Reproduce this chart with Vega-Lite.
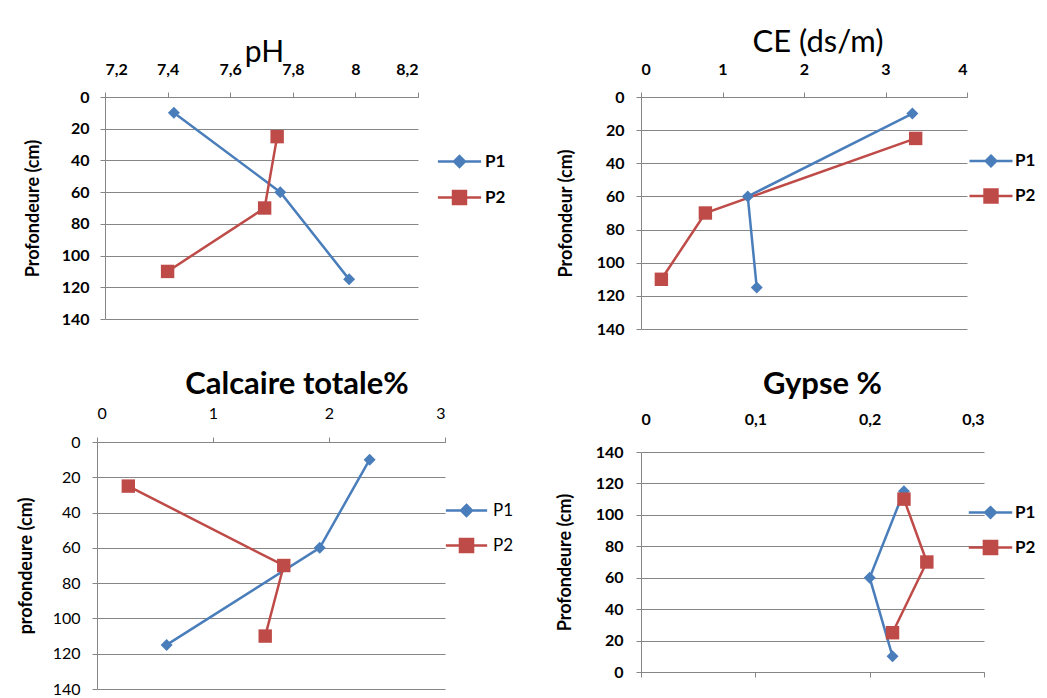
{
  "$schema": "https://vega.github.io/schema/vega-lite/v6.json",
  "background": "white",
  "padding": {"left": 17, "top": 27, "right": 0, "bottom": 0},
  "datasets": {
    "ph": [
      {"serie": "P1", "depth": 10, "value": 7.42},
      {"serie": "P1", "depth": 60, "value": 7.76},
      {"serie": "P1", "depth": 115, "value": 7.98},
      {"serie": "P2", "depth": 25, "value": 7.75},
      {"serie": "P2", "depth": 70, "value": 7.71},
      {"serie": "P2", "depth": 110, "value": 7.4}
    ],
    "ce": [
      {"serie": "P1", "depth": 10, "value": 3.33},
      {"serie": "P1", "depth": 60, "value": 1.31},
      {"serie": "P1", "depth": 115, "value": 1.42},
      {"serie": "P2", "depth": 25, "value": 3.37},
      {"serie": "P2", "depth": 70, "value": 0.79},
      {"serie": "P2", "depth": 110, "value": 0.25}
    ],
    "calc": [
      {"serie": "P1", "depth": 10, "value": 2.35},
      {"serie": "P1", "depth": 60, "value": 1.92},
      {"serie": "P1", "depth": 115, "value": 0.6},
      {"serie": "P2", "depth": 25, "value": 0.27},
      {"serie": "P2", "depth": 70, "value": 1.61},
      {"serie": "P2", "depth": 110, "value": 1.45}
    ],
    "gyp": [
      {"serie": "P1", "depth": 10, "value": 0.22},
      {"serie": "P1", "depth": 60, "value": 0.2},
      {"serie": "P1", "depth": 115, "value": 0.23},
      {"serie": "P2", "depth": 25, "value": 0.22},
      {"serie": "P2", "depth": 70, "value": 0.25},
      {"serie": "P2", "depth": 110, "value": 0.23}
    ]
  },
  "spacing": 42,
  "resolve": {"scale": {"color": "independent"}, "legend": {"color": "independent"}},
  "hconcat": [
    {
      "spacing": 42,
      "center": true,
      "resolve": {"scale": {"color": "independent"}, "legend": {"color": "independent"}},
      "vconcat": [
        {
          "width": 313, "height": 222,
          "data": {"name": "ph"},
          "title": {"text": "pH", "fontSize": 30, "fontWeight": "normal", "baseline": "alphabetic", "offset": -31, "dx": 3},
          "encoding": {
            "x": {"field": "value", "type": "quantitative", "scale": {"domain": [7.2, 8.2], "nice": false, "zero": false},
              "axis": {"orient": "top", "values": [7.2, 7.4, 7.6, 7.8, 8, 8.2], "labelExpr": "replace(format(datum.value, '.1~f'), '.', ',')", "title": null, "labelPadding": 15}},
            "y": {"field": "depth", "type": "quantitative", "scale": {"domain": [0, 140], "reverse": true, "nice": false, "zero": false},
              "axis": {"values": [0, 20, 40, 60, 80, 100, 120, 140], "title": "Profondeure (cm)", "labelPadding": 11, "titlePadding": 19}},
            "color": {"field": "serie", "type": "nominal", "scale": {"domain": ["P1", "P2"], "range": ["#4A7EBB", "#BE4B48"]},
              "legend": {"title": null, "orient": "none", "legendX": 335, "legendY": 45, "symbolSize": 1296, "rowPadding": 6, "labelOffset": 6, "labelFontSize": 17, "labelFontWeight": "bold",
                "encode": {"symbols": {"update": {
                  "shape": {"signal": "datum.value === 'P1' ? 'M-1.2,0H1.2M0,-0.3L0.3,0L0,0.3L-0.3,0Z' : 'M-1.2,0H1.2M-0.36,-0.36H0.36V0.36H-0.36Z'"},
                  "fill": {"signal": "datum.value === 'P1' ? '#4A7EBB' : '#BE4B48'"},
                  "stroke": {"signal": "datum.value === 'P1' ? '#4A7EBB' : '#BE4B48'"},
                  "opacity": {"value": 1}}}}}},
            "order": {"field": "depth", "type": "quantitative"}
          },
          "layer": [
            {"mark": {"type": "line", "strokeWidth": 2.5}},
            {"transform": [{"filter": "datum.serie === 'P1'"}], "mark": {"type": "point", "shape": "diamond", "size": 144, "filled": true, "opacity": 1}},
            {"transform": [{"filter": "datum.serie === 'P2'"}], "mark": {"type": "point", "shape": "square", "size": 180, "filled": true, "opacity": 1}}
          ]
        },
        {
          "width": 348, "height": 247,
          "data": {"name": "calc"},
          "title": {"text": "Calcaire totale%", "fontSize": 31, "fontWeight": "bold", "baseline": "alphabetic", "offset": -20, "dx": 26},
          "encoding": {
            "x": {"field": "value", "type": "quantitative", "scale": {"domain": [0, 3], "nice": false, "zero": false},
              "axis": {"orient": "top", "values": [0, 1, 2, 3], "title": null, "labelPadding": 16, "labelFontWeight": "normal", "labelFontSize": 16}},
            "y": {"field": "depth", "type": "quantitative", "scale": {"domain": [0, 140], "reverse": true, "nice": false, "zero": false},
              "axis": {"values": [0, 20, 40, 60, 80, 100, 120, 140], "title": "profondeure (cm)", "labelPadding": 12, "titlePadding": 17, "labelFontWeight": "normal", "labelFontSize": 16}},
            "color": {"field": "serie", "type": "nominal", "scale": {"domain": ["P1", "P2"], "range": ["#4A7EBB", "#BE4B48"]},
              "legend": {"title": null, "orient": "none", "legendX": 351, "legendY": 50, "symbolSize": 1183, "rowPadding": 5, "labelOffset": 8, "labelFontSize": 17, "labelFontWeight": "normal",
                "encode": {"symbols": {"update": {
                  "shape": {"signal": "datum.value === 'P1' ? 'M-1.2,0H1.2M0,-0.32L0.32,0L0,0.32L-0.32,0Z' : 'M-1.2,0H1.2M-0.38,-0.38H0.38V0.38H-0.38Z'"},
                  "fill": {"signal": "datum.value === 'P1' ? '#4A7EBB' : '#BE4B48'"},
                  "stroke": {"signal": "datum.value === 'P1' ? '#4A7EBB' : '#BE4B48'"},
                  "opacity": {"value": 1}}}}}},
            "order": {"field": "depth", "type": "quantitative"}
          },
          "layer": [
            {"mark": {"type": "line", "strokeWidth": 2.5}},
            {"transform": [{"filter": "datum.serie === 'P1'"}], "mark": {"type": "point", "shape": "diamond", "size": 144, "filled": true, "opacity": 1}},
            {"transform": [{"filter": "datum.serie === 'P2'"}], "mark": {"type": "point", "shape": "square", "size": 180, "filled": true, "opacity": 1}}
          ]
        }
      ]
    },
    {
      "spacing": 32,
      "resolve": {"scale": {"color": "independent"}, "legend": {"color": "independent"}},
      "vconcat": [
        {
          "width": 326, "height": 232,
          "data": {"name": "ce"},
          "title": {"text": "CE (ds/m)", "fontSize": 31, "fontWeight": "normal", "baseline": "alphabetic", "offset": -22, "dx": 14},
          "encoding": {
            "x": {"field": "value", "type": "quantitative", "scale": {"domain": [0, 4], "nice": false, "zero": false},
              "axis": {"orient": "top", "values": [0, 1, 2, 3, 4], "title": null, "labelPadding": 15}},
            "y": {"field": "depth", "type": "quantitative", "scale": {"domain": [0, 140], "reverse": true, "nice": false, "zero": false},
              "axis": {"values": [0, 20, 40, 60, 80, 100, 120, 140], "title": "Profondeur (cm)", "labelPadding": 12, "titlePadding": 21}},
            "color": {"field": "serie", "type": "nominal", "scale": {"domain": ["P1", "P2"], "range": ["#4A7EBB", "#BE4B48"]},
              "legend": {"title": null, "orient": "none", "legendX": 331, "legendY": 45, "symbolSize": 1225, "rowPadding": 5, "labelOffset": 5, "labelFontSize": 17, "labelFontWeight": "bold",
                "encode": {"symbols": {"update": {
                  "shape": {"signal": "datum.value === 'P1' ? 'M-1.23,0H1.23M0,-0.3L0.3,0L0,0.3L-0.3,0Z' : 'M-1.23,0H1.23M-0.37,-0.37H0.37V0.37H-0.37Z'"},
                  "fill": {"signal": "datum.value === 'P1' ? '#4A7EBB' : '#BE4B48'"},
                  "stroke": {"signal": "datum.value === 'P1' ? '#4A7EBB' : '#BE4B48'"},
                  "opacity": {"value": 1}}}}}},
            "order": {"field": "depth", "type": "quantitative"}
          },
          "layer": [
            {"mark": {"type": "line", "strokeWidth": 2.5}},
            {"transform": [{"filter": "datum.serie === 'P1'"}], "mark": {"type": "point", "shape": "diamond", "size": 144, "filled": true, "opacity": 1}},
            {"transform": [{"filter": "datum.serie === 'P2'"}], "mark": {"type": "point", "shape": "square", "size": 180, "filled": true, "opacity": 1}}
          ]
        },
        {
          "width": 343, "height": 220,
          "data": {"name": "gyp"},
          "title": {"text": "Gypse %", "fontSize": 31, "fontWeight": "bold", "baseline": "alphabetic", "offset": -14, "dx": 10},
          "encoding": {
            "y": {"field": "depth", "type": "quantitative", "scale": {"domain": [0, 140], "nice": false, "zero": false},
              "axis": {"values": [0, 20, 40, 60, 80, 100, 120, 140], "title": "Profondeure (cm)", "labelPadding": 13, "titlePadding": 21}},
            "color": {"field": "serie", "type": "nominal", "scale": {"domain": ["P1", "P2"], "range": ["#4A7EBB", "#BE4B48"]},
              "legend": {"title": null, "orient": "none", "legendX": 330, "legendY": 41, "symbolSize": 1267, "rowPadding": 5, "labelOffset": 5, "labelFontSize": 17, "labelFontWeight": "bold",
                "encode": {"symbols": {"update": {
                  "shape": {"signal": "datum.value === 'P1' ? 'M-1.22,0H1.22M0,-0.3L0.3,0L0,0.3L-0.3,0Z' : 'M-1.22,0H1.22M-0.37,-0.37H0.37V0.37H-0.37Z'"},
                  "fill": {"signal": "datum.value === 'P1' ? '#4A7EBB' : '#BE4B48'"},
                  "stroke": {"signal": "datum.value === 'P1' ? '#4A7EBB' : '#BE4B48'"},
                  "opacity": {"value": 1}}}}}},
            "order": {"field": "depth", "type": "quantitative"}
          },
          "layer": [
            {"mark": {"type": "line", "strokeWidth": 2.5},
              "encoding": {
                "x": {"field": "value", "type": "quantitative", "scale": {"domain": [0, 0.3], "nice": false, "zero": false},
                  "axis": {"orient": "top", "values": [0, 0.1, 0.2, 0.3], "labelExpr": "replace(format(datum.value, '.1~f'), '.', ',')", "title": null, "labelPadding": 25, "ticks": false, "domain": false}}}},
            {"transform": [{"filter": "datum.serie === 'P1'"}], "mark": {"type": "point", "shape": "diamond", "size": 144, "filled": true, "opacity": 1},
              "encoding": {
                "x": {"field": "value", "type": "quantitative", "scale": {"domain": [0, 0.3], "nice": false, "zero": false},
                  "axis": {"orient": "bottom", "values": [0, 0.1, 0.2, 0.3], "title": null, "labels": false, "ticks": true, "domain": true}}}},
            {"transform": [{"filter": "datum.serie === 'P2'"}], "mark": {"type": "point", "shape": "square", "size": 180, "filled": true, "opacity": 1},
              "encoding": {
                "x": {"field": "value", "type": "quantitative", "scale": {"domain": [0, 0.3], "nice": false, "zero": false}, "axis": null}}}
          ],
          "resolve": {"axis": {"x": "independent"}}
        }
      ]
    }
  ],
  "config": {
    "font": "Lato",
    "view": {"stroke": null},
    "title": {"color": "#000000", "anchor": "middle"},
    "axis": {
      "domainColor": "#868686", "tickColor": "#868686", "gridColor": "#868686",
      "domainWidth": 1, "tickWidth": 1, "gridWidth": 1,
      "labelColor": "#000000", "titleColor": "#000000",
      "labelFontSize": 16, "labelFontWeight": "bold",
      "titleFontSize": 18, "titleFontWeight": "bold",
      "tickSize": 5
    },
    "axisX": {"grid": false},
    "axisY": {"grid": true},
    "legend": {"padding": 0, "rowPadding": 0, "symbolStrokeWidth": 2.5, "labelColor": "#000000", "labelBaseline": "middle"}
  }
}
